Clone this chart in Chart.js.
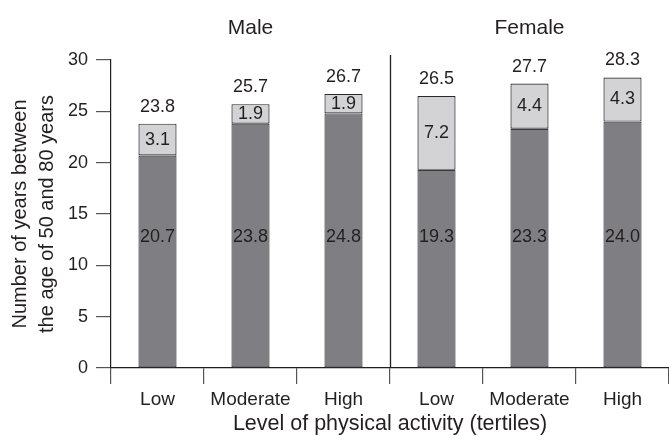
<!DOCTYPE html>
<html>
<head>
<meta charset="utf-8">
<script src="https://cdn.jsdelivr.net/npm/chart.js@4/dist/chart.umd.min.js"></script>
<style>
	html, body { margin:0; padding:0; background:#fff; }
	#wrap { width:669px; height:436px; }
</style>
</head>
<body>
<div id="wrap"><canvas id="c" width="669" height="436"></canvas></div>
<script>
const categories = ['Low', 'Moderate', 'High', 'Low', 'Moderate', 'High'];
const groups = ['Male', 'Female'];
const baseYears = [20.7, 23.8, 24.8, 19.3, 23.3, 24.0];
const extraYears = [3.1, 1.9, 1.9, 7.2, 4.4, 4.3];
const totalYears = [23.8, 25.7, 26.7, 26.5, 27.7, 28.3];
const yTicks = [0, 5, 10, 15, 20, 25, 30];

const ink = '#231f20';
const fnt = 'Liberation Sans, Arial, sans-serif';

// labels in bars, totals, group names, divider
const extras = {
	id: 'extras',
	afterDatasetsDraw: ch => {
		const c = ch.ctx, x = ch.scales.x, y = ch.scales.y;
		c.save();
		c.fillStyle = ink;
		c.textAlign = 'center';
		c.textBaseline = 'middle';
		c.font = '18px ' + fnt;
		categories.forEach((k, i) => {
			const px = x.getPixelForValue(i);
			c.fillText(baseYears[i].toFixed(1), px, y.getPixelForValue(12.75));
			c.fillText(extraYears[i].toFixed(1), px, y.getPixelForValue(baseYears[i] + extraYears[i] / 2));
			c.fillText(totalYears[i].toFixed(1), px, y.getPixelForValue(totalYears[i]) - 17);
		});
		c.font = '21px ' + fnt;
		groups.forEach((g, i) => {
			c.fillText(g, x.getPixelForValue(i * 3 + 1), 28);
		});
		const dx = Math.round((x.getPixelForValue(2) + x.getPixelForValue(3)) / 2) + 0.5;
		c.strokeStyle = ink;
		c.lineWidth = 1.3;
		c.beginPath();
		c.moveTo(dx, 55);
		c.lineTo(dx, ch.chartArea.bottom);
		c.stroke();
		c.restore();
	}
};

new Chart(document.getElementById('c'), {
	type: 'bar',
	data: {
		labels: categories,
		datasets: [{
			label: 'base',
			data: baseYears,
			backgroundColor: '#7f7f83',
			borderColor: '#3a3a3c',
			borderWidth: 1.2,
			borderSkipped: false,
		}, {
			label: 'extra',
			data: extraYears,
			backgroundColor: '#d3d3d5',
			borderColor: '#2a2a2c',
			borderWidth: 1.2,
			borderSkipped: false,
		}]
	},
	options: {
		responsive: false,
		animation: false,
		devicePixelRatio: 1,
		categoryPercentage: 1,
		barPercentage: 0.41,
		layout: { padding: { top: 60, right: 0, left: 0, bottom: 0 } },
		plugins: {
			legend: { display: false },
			tooltip: { enabled: false },
		},
		scales: {
			x: {
				stacked: true,
				afterFit: s => { s.height = 68 },
				border: { color: ink, width: 1.2 },
				grid: { offset: true, drawOnChartArea: false, tickLength: 16, color: '#555', lineWidth: 1.2 },
				ticks: { color: ink, font: { family: fnt, size: 19 }, padding: 4, maxRotation: 0 },
				title: {
					display: true,
					text: 'Level of physical activity (tertiles)',
					color: ink,
					font: { family: fnt, size: 21.5, lineHeight: 1.2 },
					padding: { top: 0, bottom: -1 },
				},
			},
			y: {
				stacked: true,
				min: 0,
				max: 30,
				afterFit: s => { s.width = 111 },
				afterBuildTicks: s => { s.ticks = yTicks.map(v => ({ value: v })) },
				border: { color: ink, width: 1.2 },
				grid: { drawOnChartArea: false, tickLength: 15, color: '#555', lineWidth: 1.2 },
				ticks: { color: ink, font: { family: fnt, size: 18 }, padding: 8 },
				title: {
					display: true,
					text: ['Number of years between', 'the age of 50 and 80 years'],
					color: ink,
					font: { family: fnt, size: 20, lineHeight: 1.35 },
					padding: { top: 7, bottom: 0 },
				},
			},
		},
	},
	plugins: [extras],
});
</script>
</body>
</html>
